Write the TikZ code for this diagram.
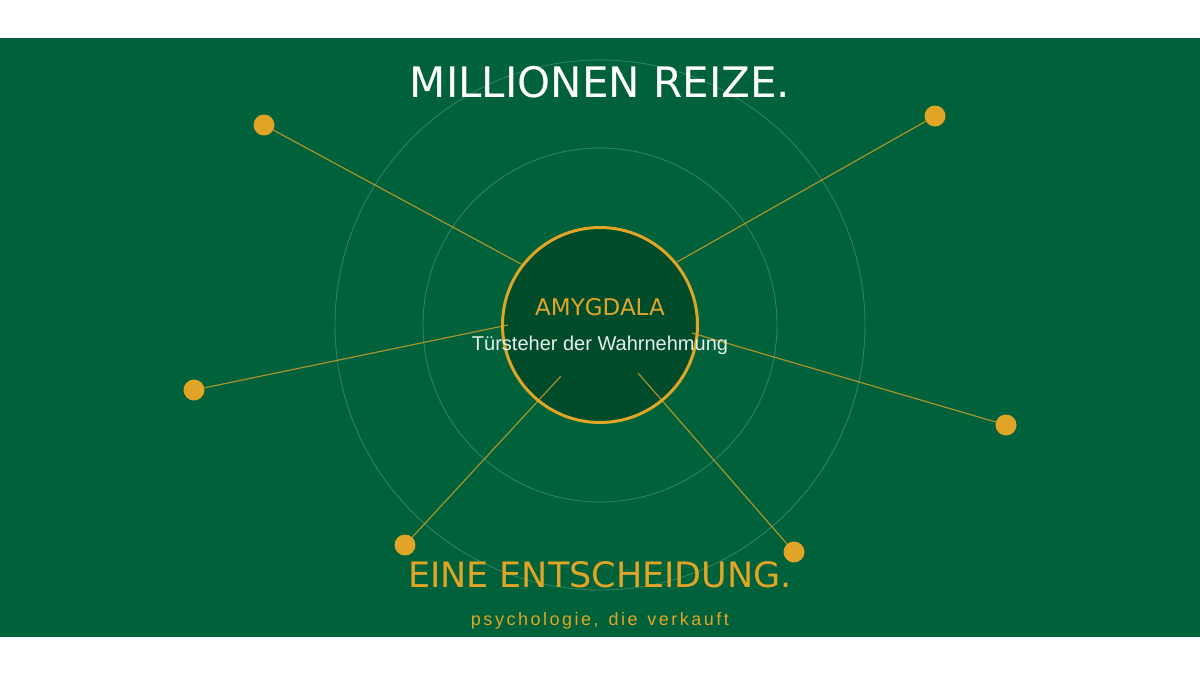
\documentclass[tikz,border=0pt]{standalone}
\usepackage{fontspec}
\setmainfont{DejaVu Sans}
\newfontfamily\subfont{Liberation Sans}
\newfontfamily\tagfont[LetterSpace=14,WordSpace=1.3]{Liberation Sans}
\definecolor{bggreen}{HTML}{00613A}
\definecolor{coregreen}{HTML}{004B2A}
\definecolor{gold}{HTML}{E0A526}
\definecolor{paleText}{HTML}{E6F0EA}

\begin{document}
\begin{tikzpicture}[
			x=1pt, y=-1pt,
			ring/.style={
				draw=white,
				draw opacity=0.2,
				line width=0.9
			},
			core/.style={
				circle,
				draw=gold,
				line width=3,
				fill=coregreen,
				minimum size=195,
				inner sep=0
			},
			spot/.style={
				circle,
				fill=gold,
				minimum size=21,
				inner sep=0
			},
			ray/.style={
				draw=gold,
				draw opacity=0.75,
				line width=1.2
			},
			label/.style={
				inner sep=0,
				anchor=base
			}
		]

		\useasboundingbox (0,0) rectangle (1200,675);
		\fill[bggreen] (0,37.5) rectangle (1200,637);

		\coordinate (C) at (600,325);
		\draw[ring] (C) circle (177);
		\draw[ring] (C) circle (265);

		\node [core] (AM) at (C) {};

		% stimuli
		\foreach \i/\sx/\sy/\ex/\ey in {1/264/125/521/264, 2/935/116/677/262, 3/194/390/508/325,
			4/1006/425/692/333, 5/405/545/561/376, 6/794/552/638/373}{
			\node [spot] (S\i) at (\sx,\sy) {};
			\coordinate (E\i) at (\ex,\ey);
			\draw[ray] (S\i) -- (E\i);
		}

		\node [label, text=white, font=\fontsize{42}{50}\selectfont] (T) at (600,97) {MILLIONEN REIZE.};
		\node [label, text=gold, font=\fontsize{23}{28}\selectfont] (A) at (600,315) {AMYGDALA};
		\node [label, text=paleText, font=\subfont\fontsize{20}{24}\selectfont] (W) at (600,350.5) {Türsteher der Wahrnehmung};
		\node [label, text=gold, font=\fontsize{35}{42}\selectfont] (B) at (600,587) {EINE ENTSCHEIDUNG.};
		\node [label, text=gold, font=\tagfont\fontsize{18}{22}\selectfont] (P) at (600,625) {psychologie, die verkauft};

	\end{tikzpicture}
\end{document}
